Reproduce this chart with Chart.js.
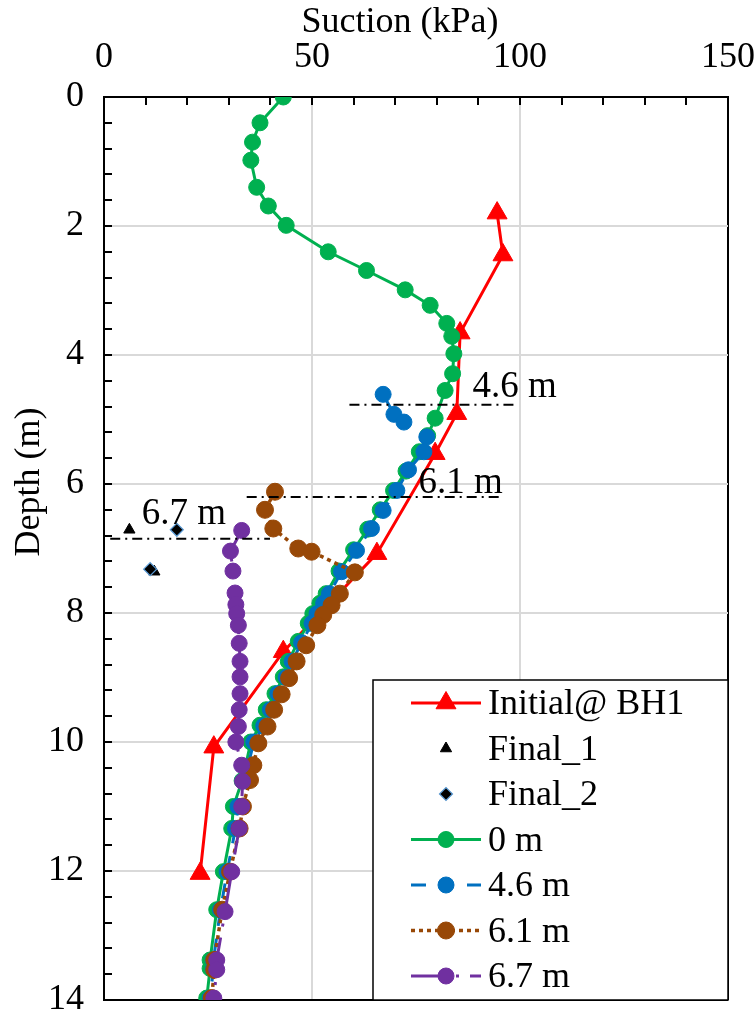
<!DOCTYPE html>
<html>
<head>
<meta charset="utf-8">
<script src="https://cdn.jsdelivr.net/npm/chart.js@4.4.0/dist/chart.umd.min.js"></script>
<style>
  html, body { margin: 0; padding: 0; background: #fff; }
  canvas { display: block; }
</style>
</head>
<body>
<canvas id="suctionChart" width="755" height="1016"></canvas>
<script>
// ---- data (suction in kPa, depth in m) ----
const initialSuction = [94.5, 95.9, 85.6, 84.8, 79.6, 65.6, 43.1, 26.4, 23.1];
const initialDepth   = [1.80, 2.45, 3.66, 4.91, 5.53, 7.08, 8.60, 10.08, 12.04];

const final1Suction = [6.1, 12.1];
const final1Depth   = [6.71, 7.36];
const final2Suction = [17.5, 11.1];
const final2Depth   = [6.71, 7.32];

const m0Depth = [0, 0.40, 0.70, 0.98, 1.40, 1.69, 1.99, 2.40, 2.69, 2.99, 3.23, 3.51, 3.71, 3.98, 4.29, 4.55, 4.98, 5.25, 5.50, 5.80,
  6.10, 6.40, 6.70, 7.02, 7.35, 7.70, 7.85, 8.01, 8.16, 8.44, 8.75, 8.99, 9.25, 9.50, 9.74, 10.0, 10.38, 10.60, 11.0, 11.34,
  12.01, 12.60, 13.38, 13.51, 13.97];
const m0Suction = [43.1, 37.5, 35.7, 35.3, 36.7, 39.5, 43.8, 53.9, 63.1, 72.4, 78.4, 82.4, 83.6, 84.1, 83.8, 82.0, 79.6, 77.8, 75.8, 72.6,
  69.6, 66.4, 63.4, 60.0, 56.5, 53.4, 51.9, 50.2, 49.1, 46.7, 44.3, 43.1, 41.1, 39.0, 37.5, 35.3, 34.0, 33.2, 31.1, 30.7,
  28.7, 27.1, 25.5, 25.5, 24.7];

const m46Depth = [4.61, 4.92, 5.04, 5.27, 5.50, 5.78, 6.10, 6.41, 6.69, 7.03, 7.36, 7.70, 7.85, 8.01, 8.16, 8.46, 8.75, 9.00, 9.25, 9.50,
  9.75, 10.0, 10.38, 10.60, 11.0, 11.34, 12.01, 12.60, 13.38, 13.52, 13.97];
const m46Suction = [67.1, 69.7, 72.1, 77.6, 76.9, 73.2, 70.4, 67.1, 64.3, 60.7, 57.1, 54.2, 52.8, 51.2, 50.0, 47.5, 45.2, 43.8, 41.8, 40.0,
  38.4, 36.0, 34.6, 34.0, 32.2, 31.6, 29.6, 28.0, 26.3, 26.3, 25.5];

const m61Depth = [6.12, 6.40, 6.69, 7.00, 7.05, 7.37, 7.70, 7.88, 8.03, 8.19, 8.50, 8.75, 9.01, 9.26, 9.50, 9.76, 10.02, 10.36, 10.59, 11.0,
  11.34, 12.01, 12.60, 13.38, 13.53, 13.97];
const m61Suction = [41.1, 38.7, 40.7, 46.7, 49.9, 60.3, 56.7, 54.7, 52.7, 51.3, 48.6, 46.3, 44.5, 42.7, 40.9, 39.3, 37.1, 35.9, 35.1, 33.4,
  32.6, 30.3, 28.4, 26.5, 26.5, 25.9];

const m67Depth = [6.72, 7.04, 7.35, 7.69, 7.87, 8.01, 8.19, 8.47, 8.75, 8.99, 9.25, 9.50, 9.76, 10.0, 10.36, 10.61, 11.0, 11.34, 12.01, 12.63,
  13.38, 13.53, 13.97];
const m67Suction = [33.1, 30.4, 31.0, 31.5, 31.7, 31.9, 32.3, 32.5, 32.7, 32.7, 32.7, 32.5, 32.3, 31.7, 33.1, 33.3, 33.1, 32.5, 30.7, 29.1,
  27.1, 27.1, 26.4];

// dash-dot marker lines for the sensor depths
const markSuction = [[59.0, 99.6], [34.3, 96.0], [1.5, 39.9]];
const markDepth   = [4.77, 6.20, 6.85];
const markText    = ['4.6 m', '6.1 m', '6.7 m'];

const xTicks = [0, 50, 100, 150];
const yTicks = [0, 2, 4, 6, 8, 10, 12, 14];

const serif = "'Liberation Serif', 'Times New Roman', serif";
const pts = (xs, ys) => xs.map((v, i) => ({ x: v, y: ys[i] }));

// where the depth labels sit (suction, depth of baseline)
const labelPos = [[88.6, 4.65], [75.6, 6.14], [9.1, 6.62]];

function series(label, xs, ys, color, extra) {
  return Object.assign({
    label: label,
    data: pts(xs, ys),
    showLine: true,
    borderColor: color,
    backgroundColor: color,
    borderWidth: 3,
    pointRadius: 8,
    pointBackgroundColor: color,
    pointBorderColor: color,
    pointBorderWidth: 1
  }, extra || {});
}

const datasets = [
  series('Initial@ BH1', initialSuction, initialDepth, '#ff0000', { pointStyle: 'triangle', pointRadius: 11.5, order: 7 }),
  series('Final_1', final1Suction, final1Depth, '#000000', { showLine: false, pointStyle: 'triangle', pointRadius: 6.5, order: 6 }),
  series('Final_2', final2Suction, final2Depth, '#000000', { showLine: false, pointStyle: 'rectRot', pointRadius: 6.5,
    pointBorderColor: '#5b9bd5', pointBorderWidth: 1.2, order: 5 }),
  series('0 m', m0Suction, m0Depth, '#00b050', { order: 4 }),
  series('4.6 m', m46Suction, m46Depth, '#0070c0', { borderDash: [15, 13], order: 3 }),
  series('6.1 m', m61Suction, m61Depth, '#984807', { borderDash: [4, 4], borderWidth: 3.5, pointRadius: 8.5, order: 2 }),
  series('6.7 m', m67Suction, m67Depth, '#7030a0', { borderDash: [34, 11, 3, 11], order: 1 })
];
const legendCount = datasets.length;

markDepth.forEach((d, i) => {
  datasets.push({
    label: markText[i],
    data: pts(markSuction[i], [d, d]),
    showLine: true,
    borderColor: '#000',
    borderWidth: 2,
    borderDash: [10, 5, 2, 5],
    pointRadius: 0,
    order: 0
  });
});

const extras = {
  id: 'extras',
  afterDatasetsDraw(chart) {
    const ctx = chart.ctx;
    const a = chart.chartArea;
    const x = chart.scales.x, y = chart.scales.y;
    ctx.save();

    // minor tick marks pointing into the plot
    ctx.strokeStyle = '#000';
    ctx.lineWidth = 2;
    ctx.beginPath();
    for (let v = 10; v < 150; v += 10) {
      const px = Math.round(x.getPixelForValue(v));
      ctx.moveTo(px, a.top);
      ctx.lineTo(px, a.top + 8);
    }
    for (let k = 1; k < 35; k++) {
      const py = Math.round(y.getPixelForValue(k * 0.4));
      ctx.moveTo(a.left, py);
      ctx.lineTo(a.left + 8, py);
    }
    ctx.stroke();

    // depth labels next to the dash-dot lines
    ctx.fillStyle = '#000';
    ctx.font = '37px ' + serif;
    ctx.textAlign = 'left';
    ctx.textBaseline = 'alphabetic';
    markText.forEach((t, i) => {
      ctx.fillText(t, x.getPixelForValue(labelPos[i][0]), y.getPixelForValue(labelPos[i][1]));
    });

    // axis titles
    ctx.font = '36px ' + serif;
    ctx.textAlign = 'center';
    ctx.textBaseline = 'middle';
    ctx.fillText('Suction (kPa)', 400, 23);
    ctx.translate(30, 482);
    ctx.rotate(-Math.PI / 2);
    ctx.fillText('Depth (m)', 0, 0);
    ctx.restore();

    // legend box
    ctx.save();
    const lw = 355, lh = 320;
    const lx = a.right - lw, ly = a.bottom - lh;
    ctx.fillStyle = '#fff';
    ctx.fillRect(lx, ly, lw, lh);
    ctx.strokeStyle = '#000';
    ctx.lineWidth = 1.5;
    ctx.strokeRect(lx, ly, lw, lh);
    ctx.font = '36px ' + serif;
    ctx.textBaseline = 'middle';
    ctx.textAlign = 'left';
    for (let i = 0; i < legendCount; i++) {
      const ds = datasets[i];
      const cy = ly + 23 + i * 45.5;
      const x0 = lx + 38, x1 = lx + 108, cx = (x0 + x1) / 2;
      if (ds.showLine) {
        ctx.beginPath();
        ctx.setLineDash(ds.borderDash || []);
        ctx.lineWidth = ds.borderWidth;
        ctx.strokeStyle = ds.borderColor;
        ctx.moveTo(x0, cy);
        ctx.lineTo(x1, cy);
        ctx.stroke();
        ctx.setLineDash([]);
      }
      ctx.fillStyle = ds.pointBackgroundColor;
      ctx.strokeStyle = ds.pointBorderColor;
      ctx.lineWidth = ds.pointBorderWidth;
      Chart.helpers.drawPoint(ctx, {
        pointStyle: ds.pointStyle || 'circle',
        radius: ds.pointRadius,
        rotation: 0,
        borderWidth: ds.pointBorderWidth
      }, cx, cy);
      ctx.fillStyle = '#000';
      ctx.fillText(ds.label, lx + 115, cy + 2);
    }
    ctx.restore();
  }
};

const ctx = document.getElementById('suctionChart').getContext('2d');
const suctionChart = new Chart(ctx, {
  type: 'scatter',
  data: { datasets: datasets },
  options: {
    responsive: false,
    devicePixelRatio: 1,
    animation: false,
    events: [],
    layout: { padding: { top: 0, left: 0, right: 27, bottom: 16 } },
    plugins: { legend: { display: false }, tooltip: { enabled: false } },
    scales: {
      x: {
        type: 'linear',
        position: 'top',
        min: 0,
        max: 150,
        afterBuildTicks: s => { s.ticks = xTicks.map(v => ({ value: v })); },
        ticks: { color: '#000', font: { family: serif, size: 36 }, padding: 18, maxRotation: 0 },
        grid: {
          drawTicks: false,
          lineWidth: 2,
          color: c => (c.tick.value === 150 ? '#000' : c.tick.value === 0 ? 'rgba(0,0,0,0)' : '#d9d9d9')
        },
        border: { color: '#000', width: 2 },
        afterFit: s => { s.height = 97; s.paddingLeft = 0; s.paddingRight = 0; }
      },
      y: {
        type: 'linear',
        reverse: true,
        min: 0,
        max: 14,
        afterBuildTicks: s => { s.ticks = yTicks.map(v => ({ value: v })); },
        ticks: { color: '#000', font: { family: serif, size: 36 }, padding: 20 },
        grid: {
          drawTicks: false,
          lineWidth: 2,
          color: c => (c.tick.value === 14 ? '#000' : c.tick.value === 0 ? 'rgba(0,0,0,0)' : '#d9d9d9')
        },
        border: { color: '#000', width: 2 },
        afterFit: s => { s.width = 104; s.paddingTop = 0; s.paddingBottom = 0; }
      }
    }
  },
  plugins: [extras]
});
</script>
</body>
</html>
